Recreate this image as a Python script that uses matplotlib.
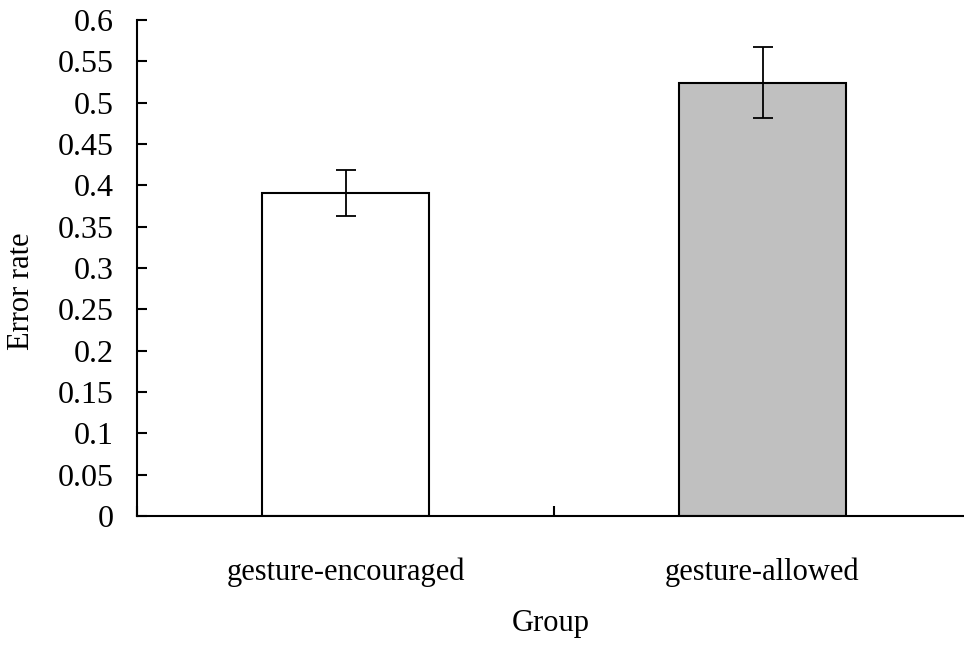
"""
Error rate by group, bar chart with error bars
"""
import matplotlib
matplotlib.use("Agg")
import matplotlib.pyplot as plt
import numpy as np

groups = ["gesture-encouraged", "gesture-allowed"]
error_rate = [0.391, 0.524]
error_se = [0.028, 0.043]
bar_colors = ["white", "#c0c0c0"]
y_ticks = [0, 0.05, 0.1, 0.15, 0.2, 0.25, 0.3, 0.35, 0.4, 0.45, 0.5, 0.55, 0.6]
y_tick_labels = ["0", "0.05", "0.1", "0.15", "0.2", "0.25", "0.3", "0.35",
                 "0.4", "0.45", "0.5", "0.55", "0.6"]

plt.rcParams["font.family"] = ["Liberation Serif", "DejaVu Serif"]
plt.rcParams["font.size"] = 22

fig = plt.figure(figsize=(9.64, 6.47), dpi=100)
ax = fig.add_axes([137 / 964, 1 - 516 / 647, 834 / 964, 496 / 647])

x = np.arange(len(groups))
ax.bar(x, error_rate, width=0.4, color=bar_colors, edgecolor="black", linewidth=1.5,
       yerr=error_se, error_kw=dict(ecolor="black", elinewidth=1.3, capsize=7, capthick=1.3))

ax.set_xlim(-0.5, len(groups) - 0.5)
ax.set_ylim(0, 0.6)

ax.set_xticks(x)
ax.set_xticklabels(groups)
ax.set_xticks(np.arange(len(groups) + 1) - 0.5, minor=True)
ax.tick_params(axis="x", which="major", length=0, pad=30)
ax.tick_params(axis="x", which="minor", direction="in", length=7, width=1.5)

ax.set_yticks(y_ticks)
ax.set_yticklabels(y_tick_labels, fontsize=23)
ax.tick_params(axis="y", direction="in", length=7, width=1.5, pad=17)

for side in ["top", "right"]:
    ax.spines[side].set_visible(False)
for side in ["left", "bottom"]:
    ax.spines[side].set_linewidth(1.5)

ax.set_ylabel("Error rate", va="center")
ax.yaxis.set_label_coords((22 - 137) / 834, (516 - 291) / 496)
ax.set_xlabel("Group", va="center")
ax.xaxis.set_label_coords((551 - 137) / 834, (516 - 623) / 496)

fig.savefig("out.png", dpi=100)
